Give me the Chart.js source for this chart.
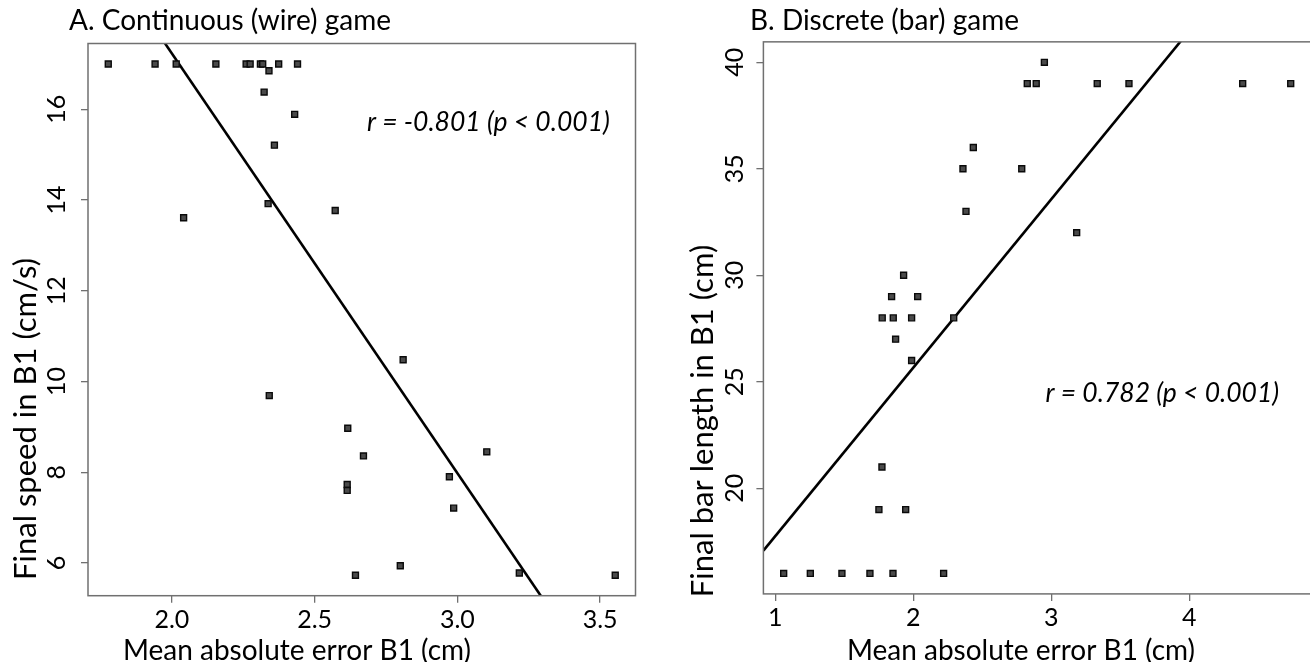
<!DOCTYPE html>
<html>
<head>
<meta charset="utf-8">
<script src="https://cdn.jsdelivr.net/npm/chart.js@4"></script>
<style>
  html, body { margin: 0; padding: 0; background: #fff; overflow: hidden; width: 1310px; height: 662px; }
  .panel { position: absolute; top: 0; height: 662px; }
  #wrapA { left: 0; width: 655px; }
  #wrapB { left: 655px; width: 680px; }
</style>
</head>
<body>
<div class="panel" id="wrapA"><canvas id="chartA"></canvas></div>
<div class="panel" id="wrapB"><canvas id="chartB"></canvas></div>
<script>
// A. continuous (wire) game: mean abs error vs final speed
const errA = [1.777, 1.941, 2.015, 2.154, 2.260, 2.274, 2.310, 2.318, 2.374, 2.440,
              2.340, 2.323, 2.430, 2.359, 2.337, 2.041, 2.572, 2.810, 2.341, 2.616,
              2.671, 3.103, 2.972, 2.614, 2.614, 2.987, 2.800, 2.643, 3.217, 3.553];
const speedA = [17, 17, 17, 17, 17, 17, 17, 17, 17, 17,
                16.85, 16.38, 15.89, 15.21, 13.92, 13.61, 13.77, 10.48, 9.69, 8.97,
                8.36, 8.45, 7.90, 7.73, 7.60, 7.21, 5.94, 5.73, 5.78, 5.73];
const fitA = [35.73, -9.25];          // intercept, slope
const xRangeA = [1.706, 3.624];
const yRangeA = [5.279, 17.451];
const xTicksA = [2.0, 2.5, 3.0, 3.5];
const yTicksA = [6, 8, 10, 12, 14, 16];

// B. discrete (bar) game: mean abs error vs final bar length
const errB = [1.061, 1.254, 1.483, 1.686, 1.853, 2.220, 1.751, 1.945, 1.773, 1.988,
              1.872, 1.775, 1.855, 1.988, 2.293, 1.843, 2.032, 1.930, 3.184, 2.382,
              2.360, 2.786, 2.435, 2.826, 2.891, 3.333, 3.563, 4.387, 4.735, 2.950];
const lengthB = [16, 16, 16, 16, 16, 16, 19, 19, 21, 26,
                 27, 28, 28, 28, 28, 29, 29, 30, 32, 33,
                 35, 35, 36, 39, 39, 39, 39, 39, 39, 40];
const fitB = [9.84, 7.91];
const xRangeB = [0.914, 4.882];
const yRangeB = [15.04, 40.96];
const xTicksB = [1, 2, 3, 4];
const yTicksB = [20, 25, 30, 35, 40];

const FONT = 'Lato, "Open Sans", sans-serif';

// frame, panel title, axis titles and r annotation (R-style)
const panelText = {
  id: 'panelText',
  afterDraw(chart, args, o) {
    const { ctx, chartArea: a, scales } = chart;
    ctx.save();
    ctx.strokeStyle = '#707070';
    ctx.lineWidth = 1.5;
    ctx.strokeRect(a.left, a.top, a.right - a.left, a.bottom - a.top);

    ctx.fillStyle = '#000';
    ctx.textBaseline = 'alphabetic';
    ctx.textAlign = 'left';
    ctx.font = '28px ' + FONT;
    ctx.fillText(o.title, o.titleX, o.titleY);

    ctx.textAlign = 'center';
    ctx.font = '28px ' + FONT;
    ctx.fillText(o.xTitle, o.xTitleX, o.xTitleY);

    ctx.save();
    ctx.translate(o.yTitleX, o.yTitleY);
    ctx.rotate(-Math.PI / 2);
    ctx.font = '31px ' + FONT;
    ctx.fillText(o.yTitle, 0, 0);
    ctx.restore();

    ctx.textAlign = 'left';
    ctx.font = 'italic 26.5px ' + FONT;
    ctx.fillText(o.note, scales.x.getPixelForValue(o.noteAt[0]), scales.y.getPixelForValue(o.noteAt[1]));
    ctx.restore();
  }
};

function makeChart(id, xs, ys, fit, xRange, yRange, xTicks, yTicks, xDigits, layout, text) {
  const pts = xs.map((x, i) => ({ x: x, y: ys[i] }));
  const line = xRange.map(x => ({ x: x, y: fit[0] + fit[1] * x }));
  const tickCol = '#707070';
  return new Chart(document.getElementById(id), {
    type: 'scatter',
    data: {
      datasets: [{
        data: pts,
        pointStyle: 'rect',
        pointRadius: 4.2,
        pointHoverRadius: 4.2,
        backgroundColor: '#4a4a4a',
        borderColor: '#0a0a0a',
        borderWidth: 1.4
      }, {
        type: 'line',
        data: line,
        borderColor: '#000',
        borderWidth: 2.6,
        pointRadius: 0,
        fill: false,
        clip: 0
      }]
    },
    options: {
      responsive: true,
      maintainAspectRatio: false,
      animation: false,
      events: [],
      layout: { padding: layout.padding },
      plugins: { legend: { display: false }, tooltip: { enabled: false }, panelText: text },
      scales: {
        x: {
          type: 'linear',
          min: xRange[0],
          max: xRange[1],
          afterBuildTicks: s => { s.ticks = xTicks.map(v => ({ value: v })); },
          afterFit: s => { s.height = layout.xHeight; },
          grid: { drawOnChartArea: false, drawTicks: true, tickLength: 7, color: tickCol, lineWidth: 1.3 },
          border: { display: false },
          ticks: {
            color: '#000',
            font: { family: FONT, size: 25 },
            padding: 2,
            maxRotation: 0,
            callback: v => Number(v).toFixed(xDigits)
          }
        },
        y: {
          type: 'linear',
          min: yRange[0],
          max: yRange[1],
          afterBuildTicks: s => { s.ticks = yTicks.map(v => ({ value: v })); },
          afterFit: s => { s.width = layout.yWidth; },
          grid: { drawOnChartArea: false, drawTicks: true, tickLength: 7, color: tickCol, lineWidth: 1.3 },
          border: { display: false },
          ticks: {
            color: '#000',
            font: { family: FONT, size: 25 },
            minRotation: 90,
            maxRotation: 90,
            crossAlign: 'center',
            padding: layout.yTickPad,
            callback: v => String(v)
          }
        }
      }
    },
    plugins: [panelText]
  });
}

makeChart('chartA', errA, speedA, fitA, xRangeA, yRangeA, xTicksA, yTicksA, 1,
  { padding: { left: 0, top: 43.5, right: 19.5, bottom: 0 }, xHeight: 66.3, yWidth: 88, yTickPad: 9.5 },
  { title: 'A. Continuous (wire) game', titleX: 69, titleY: 30,
    xTitle: 'Mean absolute error B1 (cm)', xTitleX: 297, xTitleY: 660,
    yTitle: 'Final speed in B1 (cm/s)', yTitleX: 36, yTitleY: 419,
    note: 'r = -0.801 (p < 0.001)', noteAt: [2.683, 15.52] });

makeChart('chartB', errB, lengthB, fitB, xRangeB, yRangeB, xTicksB, yTicksB, 0,
  { padding: { left: 0, top: 41.85, right: 24, bottom: 0 }, xHeight: 68.1, yWidth: 108.4, yTickPad: 7 },
  { title: 'B. Discrete (bar) game', titleX: 95, titleY: 30,
    xTitle: 'Mean absolute error B1 (cm)', xTitleX: 366, xTitleY: 660,
    yTitle: 'Final bar length in B1 (cm)', yTitleX: 58, yTitleY: 421,
    note: 'r = 0.782 (p < 0.001)', noteAt: [2.958, 24.05] });
</script>
</body>
</html>
